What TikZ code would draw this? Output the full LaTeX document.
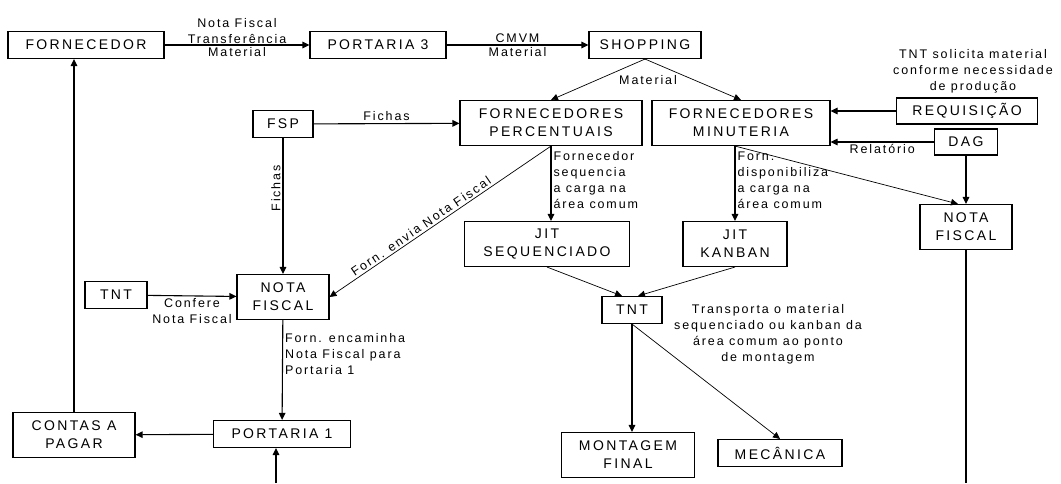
\documentclass[tikz,border=0pt]{standalone}
\usepackage{fontspec}
\setmainfont{Liberation Sans}
\newfontfamily\boxfont[LetterSpace=17]{Liberation Sans}
\newfontfamily\lblfont[LetterSpace=15]{Liberation Sans}
\usetikzlibrary{arrows.meta,calc,positioning}
\tikzset{box/.style={draw,line width=1.1pt,align=center,inner sep=2pt,minimum height=27pt,
    font=\boxfont\fontsize{14}{18}\selectfont},
  tall/.style={box,minimum height=45pt},
  lbl/.style={font=\lblfont\fontsize{12.5}{16}\selectfont,inner sep=2pt},
  arr/.style={-{Triangle[length=7pt,width=6.5pt]},line width=1.1pt},
  slant/.style={arr,line width=0.7pt}}

\begin{document}
\begin{tikzpicture}[x=1pt,y=-1pt]
\useasboundingbox (0,0) rectangle (1061,483);
\node[box,minimum width=156pt] (forn) at (86,45) {FORNECEDOR};
\node[box,minimum width=136pt] (p3) at (378,45) {PORTARIA 3};
\node[box,minimum width=112pt] (shop) at (645,45) {SHOPPING};
\node[tall,minimum width=182pt] (fperc) at (551,123) {FORNECEDORES\\PERCENTUAIS};
\node[tall,minimum width=178pt] (fmin) at (741,123) {FORNECEDORES\\MINUTERIA};
\node[box,minimum width=141pt,minimum height=26pt] (req) at (967,111) {REQUISIÇÃO};
\node[box,minimum width=63pt,minimum height=26pt] (dag) at (966,142) {DAG};
\node[tall,minimum width=92pt] (nfr) at (966,227) {NOTA\\FISCAL};
\node[box,minimum width=60pt] (fsp) at (283,124) {FSP};
\node[tall,minimum width=92pt] (nfl) at (283,297) {NOTA\\FISCAL};
\node[box,minimum width=62pt] (tntl) at (116,295) {TNT};
\node[box,minimum width=137pt] (p1) at (282,434) {PORTARIA 1};
\node[tall,minimum width=122pt] (contas) at (74,435) {CONTAS A\\PAGAR};
\node[tall,minimum width=165pt] (jitseq) at (547,244) {JIT\\SEQUENCIADO};
\node[tall,minimum width=104pt] (kanban) at (735,244) {JIT\\KANBAN};
\node[box,minimum width=60pt] (tnt) at (632,310) {TNT};
\node[tall,minimum width=133pt] (mont) at (628,455) {MONTAGEM\\FINAL};
\node[box,minimum width=124pt] (mec) at (780,453) {MECÂNICA};
\node[lbl,align=center] (solic) at (973,71) {TNT solicita material\\conforme necessidade\\de produção};
\node[lbl,align=center] (transp) at (768,334) {Transporta o material\\sequenciado ou kanban da\\área comum ao ponto\\de montagem};
\node[lbl] (mat) at (648,80) {Material};
\coordinate (bl) at (276,483);
\coordinate (br) at (966,483);
\coordinate (fminout) at (kanban.north |- fmin.south);

\draw[arr] (forn) -- node[lbl,above,align=center,yshift=-1pt]{Nota Fiscal\\Transferência} node[lbl,below]{Material} (p3);
\draw[arr] (p3) -- node[lbl,above]{CMVM} node[lbl,below]{Material} (shop);
\draw[slant] (shop.south) -- (fperc.north);
\draw[slant] (shop.south) -- (fmin.north);
\draw[arr] (fsp) -- node[lbl,above]{Fichas} (fperc);
\draw[arr] (fsp) -- node[lbl,pos=0.37,rotate=90,anchor=south]{Fichas} (nfl);
\draw[arr] (tntl) -- node[lbl,below,align=center]{Confere\\Nota Fiscal} (nfl);
\draw[slant] (fperc.south) -- node[lbl,sloped,above,pos=0.57]{Forn. envia Nota Fiscal} (nfl.east);
\draw[arr] (nfl) -- node[lbl,right,align=left,pos=0.34]{Forn. encaminha\\Nota Fiscal para\\Portaria 1} (p1);
\draw[arr] (p1) -- (contas);
\draw[arr] (contas) -- (contas |- forn.south);
\draw[arr] (bl) -- (bl |- p1.south);
\draw[arr] (fperc.south) -- node[lbl,right,align=left,pos=0.46]{Fornecedor\\sequencia\\a carga na\\área comum} (fperc.south |- jitseq.north);
\draw[arr] (fminout) -- node[lbl,right,align=left,pos=0.46]{Forn.\\disponibiliza\\a carga na\\área comum} (kanban.north);
\draw[slant] (fminout) -- ([xshift=-8pt]nfr.north);
\draw[arr] (req) -- (fmin.east |- req);
\draw[arr] (dag) -- node[lbl,below]{Relatório} (fmin.east |- dag);
\draw[arr] (dag) -- (nfr);
\draw[line width=1.1pt] (nfr) -- (br);
\draw[slant] (jitseq.south) -- ([xshift=-10pt]tnt.north);
\draw[slant] (kanban.south) -- ([xshift=6pt]tnt.north);
\draw[arr] (tnt) -- (tnt |- mont.north);
\draw[slant] (tnt.south) -- (mec.north);
\end{tikzpicture}
\end{document}
